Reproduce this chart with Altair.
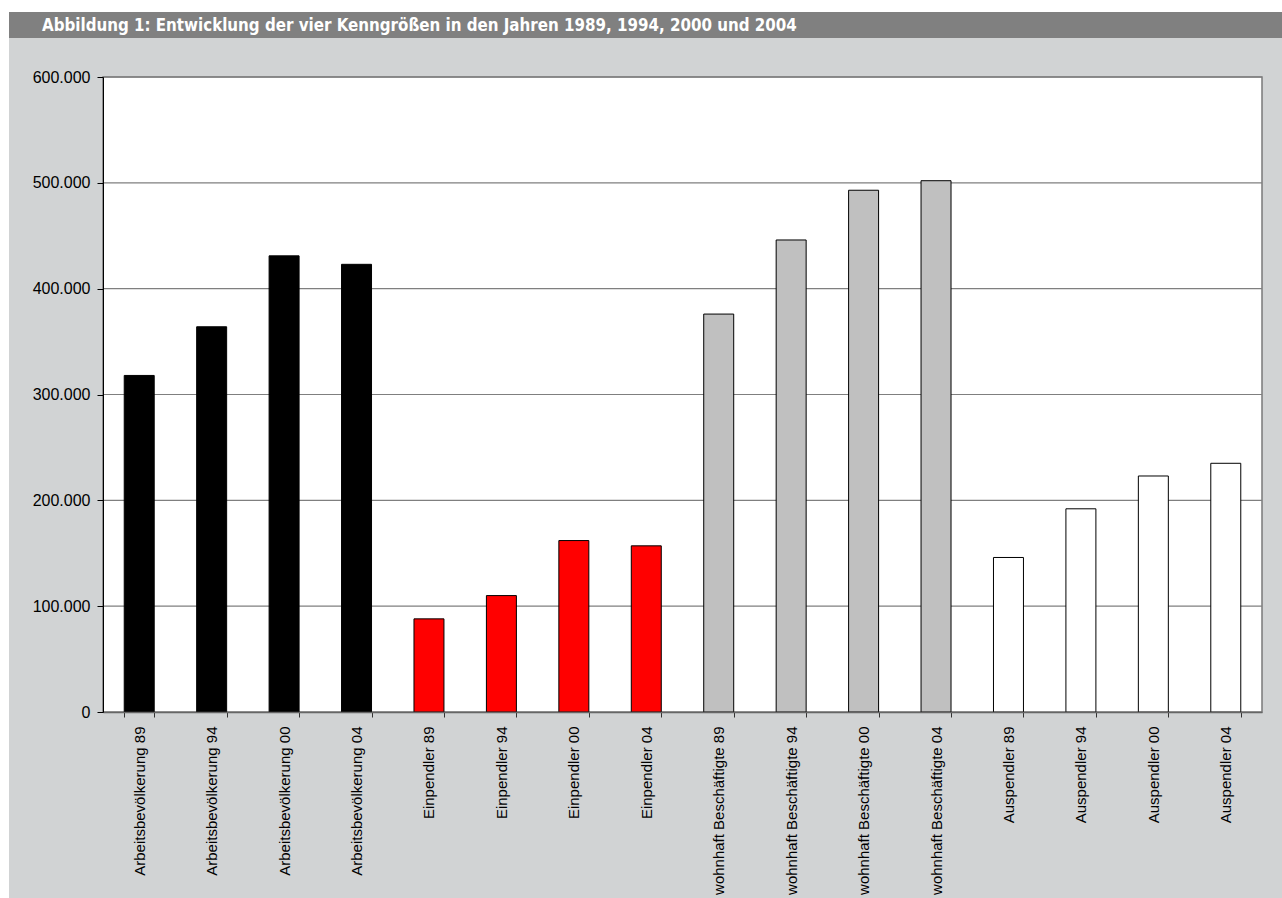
import altair as alt
import pandas as pd

title_text = "Abbildung 1: Entwicklung der vier Kenngrößen in den Jahren 1989, 1994, 2000 und 2004"

categories = [
    "Arbeitsbevölkerung 89", "Arbeitsbevölkerung 94", "Arbeitsbevölkerung 00", "Arbeitsbevölkerung 04",
    "Einpendler 89", "Einpendler 94", "Einpendler 00", "Einpendler 04",
    "wohnhaft Beschäftigte 89", "wohnhaft Beschäftigte 94", "wohnhaft Beschäftigte 00", "wohnhaft Beschäftigte 04",
    "Auspendler 89", "Auspendler 94", "Auspendler 00", "Auspendler 04",
]
groups = (["Arbeitsbevölkerung"] * 4 + ["Einpendler"] * 4
          + ["wohnhaft Beschäftigte"] * 4 + ["Auspendler"] * 4)
values = [318000, 364000, 431000, 423000,
          88000, 110000, 162000, 157000,
          376000, 446000, 493000, 502000,
          146000, 192000, 223000, 235000]
group_names = ["Arbeitsbevölkerung", "Einpendler", "wohnhaft Beschäftigte", "Auspendler"]
group_colors = ["#000000", "#ff0000", "#c0c0c0", "#ffffff"]
y_ticks = [0, 100000, 200000, 300000, 400000, 500000, 600000]

df = pd.DataFrame({"Kategorie": categories, "Gruppe": groups, "Wert": values})
grid_df = pd.DataFrame({"Wert": y_ticks[1:]})
one_df = pd.DataFrame({"t": [title_text]})

W, H = 1159, 635          # plot area
AX = 94                   # room for the y axis
BG = "#d1d3d4"
BAR_DARK = "#808080"

# decorative panel background (grey) and title bar
panel = alt.Chart(one_df).mark_rect(color=BG).encode(
    x=alt.value(-AX), x2=alt.value(1179), y=alt.value(-65), y2=alt.value(821)
)
title_bar = alt.Chart(one_df).mark_rect(color=BAR_DARK).encode(
    x=alt.value(-AX), x2=alt.value(1179), y=alt.value(-65), y2=alt.value(-39)
)
title_txt = alt.Chart(one_df).mark_text(
    align="left", baseline="middle", color="white",
    font="DejaVu Sans Condensed", fontWeight="bold", fontSize=16.8
).encode(text="t:N", x=alt.value(-61), y=alt.value(-51.5))

plot_bg = alt.Chart(one_df).mark_rect(fill="white", stroke="#7a7a7a", strokeWidth=1.5).encode(
    x=alt.value(0), x2=alt.value(W), y=alt.value(0), y2=alt.value(H)
)

yscale = alt.Scale(domain=[0, 600000], nice=False)

grid = alt.Chart(grid_df).mark_rule(color="#7f7f7f", strokeWidth=1.2).encode(
    y=alt.Y("Wert:Q", title=None, scale=yscale)
)

bars = alt.Chart(df).mark_bar(stroke="black", strokeWidth=1).encode(
    x=alt.X("Kategorie:N", sort=categories, title=None,
            scale=alt.Scale(paddingInner=0.586, paddingOuter=0.293),
            axis=alt.Axis(labelAngle=-90, labelFontSize=15, labelFont="Liberation Sans",
                          labelColor="black", labelPadding=9, labelLimit=400,
                          tickBand="extent", tickSize=5, tickColor="#333333",
                          domainColor="#666666", domainWidth=1.5, grid=False, zindex=1)),
    y=alt.Y("Wert:Q", title=None, scale=yscale,
            axis=alt.Axis(values=y_ticks,
                          labelExpr="replace(format(datum.value, ','), ',', '.')",
                          labelFontSize=16, labelFont="Liberation Sans", labelColor="black",
                          labelPadding=7, tickSize=6, tickColor="black",
                          domainColor="black", domainWidth=1, grid=False,
                          minExtent=AX, maxExtent=AX, zindex=1)),
    color=alt.Color("Gruppe:N", scale=alt.Scale(domain=group_names, range=group_colors),
                    legend=None),
)

chart = alt.layer(panel, title_bar, title_txt, plot_bg, grid, bars).properties(
    width=W, height=H, background="white",
    padding={"left": 9, "top": 12, "right": 0, "bottom": 0},
).configure_view(stroke=None)

chart.save("out.html", embed_options={"renderer": "svg", "actions": False})
